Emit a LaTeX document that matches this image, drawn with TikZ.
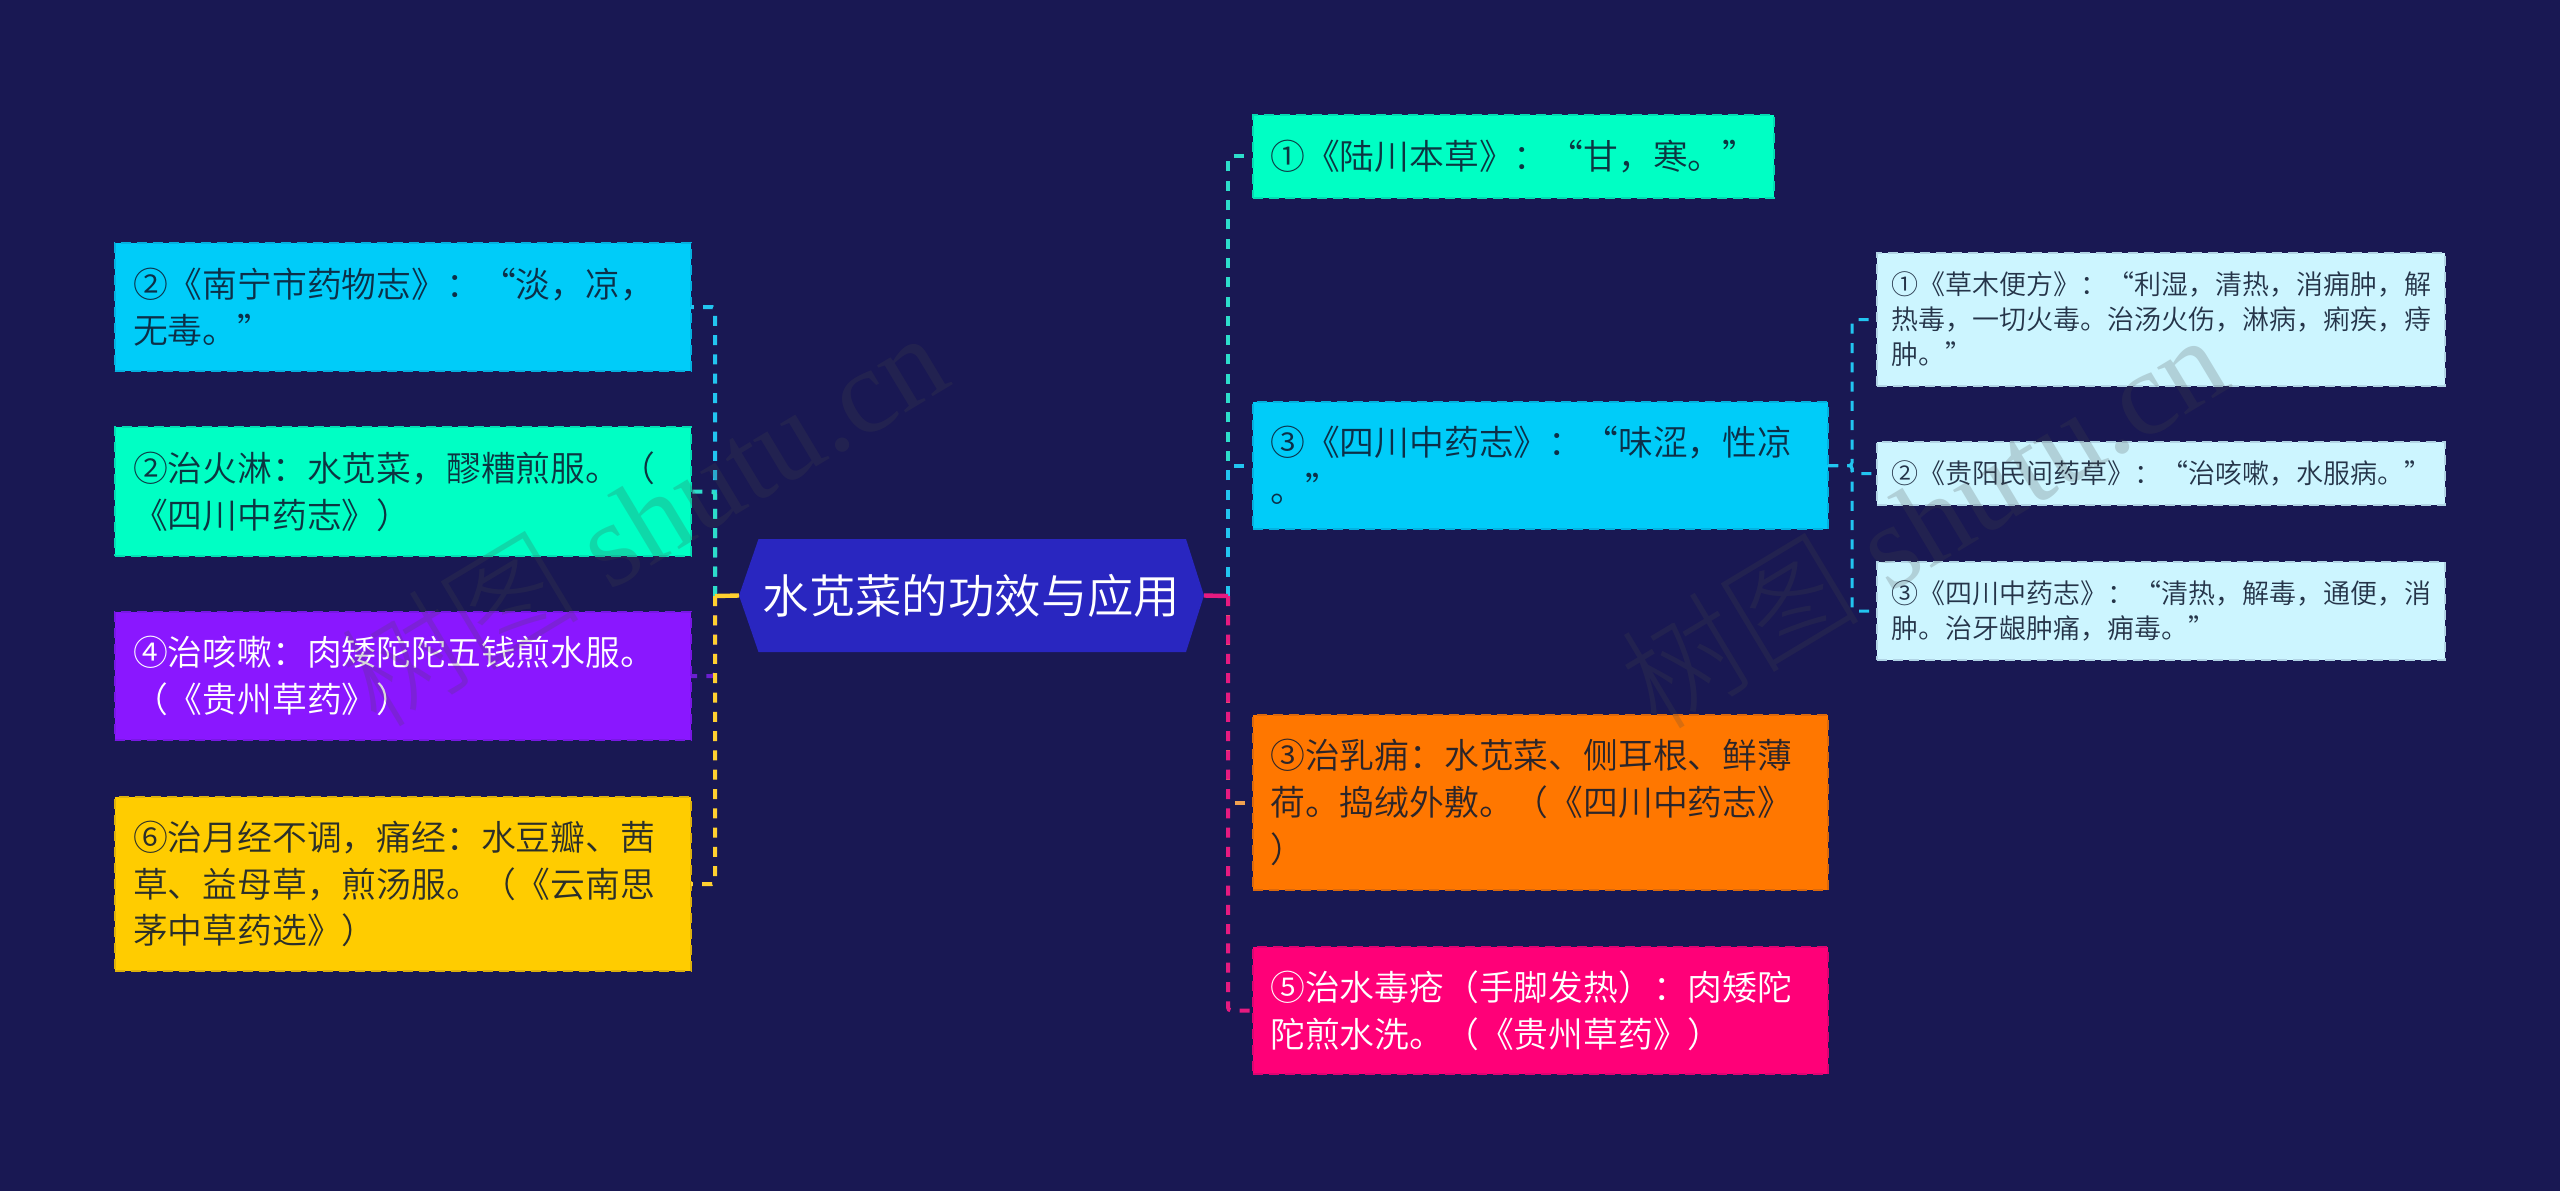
\documentclass[tikz,border=0pt]{standalone}
\usepackage{fontspec}
\setmainfont{Noto Sans CJK SC}[UprightFont=* DemiLight]
\newfontfamily\wmserif{Liberation Serif}
\newfontfamily\wmcjk{Noto Sans CJK SC}[UprightFont=* Light]
\definecolor{bgc}{HTML}{191853}
\definecolor{rootc}{HTML}{2926C0}
\definecolor{cblue}{HTML}{00CCF9}
\definecolor{cteal}{HTML}{00FFC4}
\definecolor{cpurple}{HTML}{8A17FF}
\definecolor{cyellow}{HTML}{FFCC00}
\definecolor{corange}{HTML}{FF7700}
\definecolor{cpink}{HTML}{FF0078}
\definecolor{csub}{HTML}{CCF5FF}
\definecolor{txtd}{HTML}{0E1A30}
\definecolor{lblue}{HTML}{22C5F0}
\definecolor{lteal}{HTML}{2DDDCB}
\definecolor{lpurple}{HTML}{6B1FD0}
\definecolor{lyellow}{HTML}{FFD030}
\definecolor{lorange}{HTML}{F0A050}
\definecolor{lpink}{HTML}{E61A80}
\definecolor{wmc}{HTML}{484848}
\tikzset{
 cbox/.style={rectangle,fill=#1,draw=#1!85!bgc,line width=1pt,dash pattern=on 5pt off 3pt,inner sep=0pt,outer sep=0pt,align=left,text=txtd,text opacity=.88},
 wtext/.style={text=white,text opacity=1},
 mainfs/.style={font=\fontsize{17.4}{23.3}\selectfont,text width=270pt},
 subfs/.style={font=\fontsize{13.5}{17.5}\selectfont,text width=270pt},
 conn/.style={draw=#1,line width=2pt,dash pattern=on 5pt off 4.65pt,rounded corners=1.5pt},
 subconn/.style={conn=#1,line width=1.5pt},
 stub/.style={draw=#1,line width=2.2pt},
 wmark/.style={text=wmc,text opacity=.21,font=\wmserif\fontsize{60}{60}\selectfont,rotate=31,inner sep=0pt}
}
\begin{document}
\begin{tikzpicture}[x=.5pt,y=-.5pt]
\useasboundingbox (0,0) rectangle (2560,1191);
\fill[bgc] (0,0) rectangle (2560,1191);
% junctions
\coordinate (jl) at (715,596);
\coordinate (jr) at (1228,596);
\coordinate (js) at (1852,465.5);
% root
\fill[rootc] (739,595.5) -- (758.5,539) -- (1186,539) -- (1204,595.5) -- (1186,652) -- (758.5,652) -- cycle;
\node[inner sep=0pt,outer sep=0pt,minimum width=232.5pt,minimum height=56.5pt,text=white,font=\fontsize{23.2}{28}\selectfont] (root) at (971.5,595.5) {水苋菜的功效与应用};
% left boxes
\node[cbox=cblue,mainfs,minimum width=288pt,minimum height=64pt] (l1) at (403,307) {②《南宁市药物志》：“淡，凉，\\无毒。”};
\node[cbox=cteal,mainfs,minimum width=288pt,minimum height=64.5pt] (l2) at (403,491.5) {②治火淋：水苋菜，醪糟煎服。（\\《四川中药志》）};
\node[cbox=cpurple,wtext,mainfs,minimum width=288pt,minimum height=64pt] (l3) at (403,676) {④治咳嗽：肉矮陀陀五钱煎水服。\\（《贵州草药》）};
\node[cbox=cyellow,mainfs,minimum width=288pt,minimum height=87pt] (l4) at (403,884) {⑥治月经不调，痛经：水豆瓣、茜\\草、益母草，煎汤服。（《云南思\\茅中草药选》）};
% right boxes
\node[cbox=cteal,mainfs,text width=243pt,minimum width=260.75pt,minimum height=41.25pt] (r1) at (1513.25,156.25) {\mbox{①《陆川本草》：“甘，寒。”}};
\node[cbox=cblue,mainfs,minimum width=287.75pt,minimum height=63.5pt] (r2) at (1540.25,465.5) {③《四川中药志》：“味涩，性凉\\。”};
\node[cbox=corange,mainfs,minimum width=287.75pt,minimum height=87.5pt] (r3) at (1540.25,802.5) {③治乳痈：水苋菜、侧耳根、鲜薄\\荷。捣绒外敷。（《四川中药志》\\）};
\node[cbox=cpink,wtext,mainfs,minimum width=287.75pt,minimum height=63.5pt] (r4) at (1540.25,1010.5) {⑤治水毒疮（手脚发热）：肉矮陀\\陀煎水洗。（《贵州草药》）};
% sub boxes
\node[cbox=csub,subfs,minimum width=284pt,minimum height=66.5pt] (s1) at (2161,319.5) {①《草木便方》：“利湿，清热，消痈肿，解\\热毒，一切火毒。治汤火伤，淋病，痢疾，痔\\肿。”};
\node[cbox=csub,subfs,minimum width=284pt,minimum height=31.5pt] (s2) at (2161,473.5) {②《贵阳民间药草》：“治咳嗽，水服病。”};
\node[cbox=csub,subfs,minimum width=284pt,minimum height=49pt] (s3) at (2161,611) {③《四川中药志》：“清热，解毒，通便，消\\肿。治牙龈肿痛，痈毒。”};
% connectors left
\draw[conn=lblue] (jl) |- (l1.east);
\draw[conn=lteal] (jl) |- (l2.east);
\draw[conn=lpurple] (jl) |- (l3.east);
\draw[conn=lyellow] (jl) |- (l4.east);
\draw[stub=lyellow] (root.west) -- (jl);
% connectors right
\draw[conn=lteal] (jr) |- (r1.west);
\draw[conn=lblue] (jr) |- (r2.west);
\draw[conn=lorange] (jr) |- (r3.west);
\draw[conn=lpink] (jr) |- (r4.west);
\draw[stub=lpink] (root.east) -- (jr);
% sub connectors
\draw[subconn=lblue] (r2.east) -- (js) |- (s1.west);
\draw[subconn=lblue] (r2.east) -- (js) |- (s2.west);
\draw[subconn=lblue] (r2.east) -- (js) |- (s3.west);
% watermarks
\node[wmark] (wm1) at (643,518) {{\wmcjk 树图} shutu.cn};
\node[wmark] (wm2) at (1923,520) {{\wmcjk 树图} shutu.cn};
\end{tikzpicture}
\end{document}
